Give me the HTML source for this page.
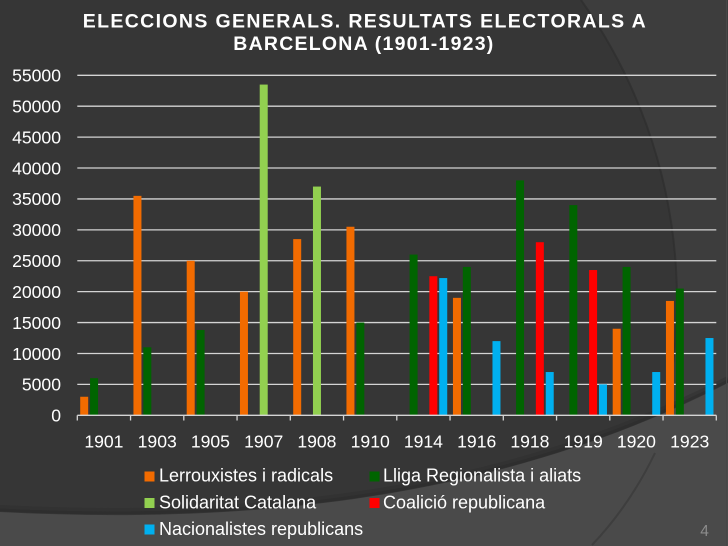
<!DOCTYPE html>
<html><head><meta charset="utf-8"><style>
html,body{margin:0;padding:0;background:#363636;width:728px;height:546px;overflow:hidden;}
svg{display:block;position:absolute;left:0;top:0;}
text{font-family:"Liberation Sans",Arial,sans-serif;}
</style></head><body>
<svg width="728" height="546" viewBox="0 0 728 546" xmlns="http://www.w3.org/2000/svg" overflow="hidden">
<rect x="0" y="0" width="728" height="546" fill="#363636"/>
<path d="M581,0 L728,0 L728,546 L614.7,546 A517,517 0 0 0 581,0 Z" fill="#3d3d3d"/>
<path d="M614.7,546 A517,517 0 0 0 581,0" fill="none" stroke="#2e2e2e" stroke-width="2" opacity="0.7"/>
<path d="M0,508 C250,521 500,496 728,379" fill="none" stroke="#2c2c2c" stroke-width="6" opacity="0.35"/>
<path d="M0,510 C250,523 500,498 728,381" fill="none" stroke="#2a2a2a" stroke-width="3" opacity="0.5"/>
<path d="M0,512 C250,525 500,500 728,383 L728,546 L0,546 Z" fill="#4a4a4a"/>
<path d="M655,453 Q630,505 592,545" fill="none" stroke="#3e3e3e" stroke-width="2"/>
<line x1="726.5" y1="0" x2="726.5" y2="546" stroke="#474747" stroke-width="1"/>

<!-- title -->
<text x="82.7" y="27.3" font-size="19.5" font-weight="bold" fill="#ffffff" textLength="563" lengthAdjust="spacing">ELECCIONS GENERALS. RESULTATS ELECTORALS A</text>
<text x="233.3" y="50" font-size="19.5" font-weight="bold" fill="#ffffff" textLength="260" lengthAdjust="spacing">BARCELONA (1901-1923)</text>

<!-- gridlines -->
<g stroke="#d4d4d4" stroke-width="1.3">
<line x1="77.3" y1="384.39" x2="716.3" y2="384.39"/>
<line x1="77.3" y1="353.48" x2="716.3" y2="353.48"/>
<line x1="77.3" y1="322.57" x2="716.3" y2="322.57"/>
<line x1="77.3" y1="291.66" x2="716.3" y2="291.66"/>
<line x1="77.3" y1="260.75" x2="716.3" y2="260.75"/>
<line x1="77.3" y1="229.85" x2="716.3" y2="229.85"/>
<line x1="77.3" y1="198.94" x2="716.3" y2="198.94"/>
<line x1="77.3" y1="168.03" x2="716.3" y2="168.03"/>
<line x1="77.3" y1="137.12" x2="716.3" y2="137.12"/>
<line x1="77.3" y1="106.21" x2="716.3" y2="106.21"/>
<line x1="77.3" y1="75.3" x2="716.3" y2="75.3"/>
</g>

<!-- y labels -->
<g font-size="17.6" fill="#ffffff" text-anchor="end">
<text x="61" y="421.6">0</text>
<text x="61" y="390.7">5000</text>
<text x="61" y="359.8">10000</text>
<text x="61" y="328.9">15000</text>
<text x="61" y="298.0">20000</text>
<text x="61" y="267.1">25000</text>
<text x="61" y="236.1">30000</text>
<text x="61" y="205.2">35000</text>
<text x="61" y="174.3">40000</text>
<text x="61" y="143.4">45000</text>
<text x="61" y="112.5">50000</text>
<text x="61" y="81.6">55000</text>
</g>

<!-- bars -->
<g>
<rect x="80.2" y="396.75" width="8" height="18.55" fill="#f26b00"/>
<rect x="90.08" y="378.21" width="8" height="37.09" fill="#006400"/>
<rect x="133.45" y="195.85" width="8" height="219.45" fill="#f26b00"/>
<rect x="143.33" y="347.3" width="8" height="68" fill="#006400"/>
<rect x="186.7" y="260.75" width="8" height="154.55" fill="#f26b00"/>
<rect x="196.58" y="329.99" width="8" height="85.31" fill="#006400"/>
<rect x="239.95" y="291.66" width="8" height="123.64" fill="#f26b00"/>
<rect x="259.71" y="84.57" width="8" height="330.73" fill="#92d050"/>
<rect x="293.2" y="239.12" width="8" height="176.18" fill="#f26b00"/>
<rect x="312.96" y="186.57" width="8" height="228.73" fill="#92d050"/>
<rect x="346.45" y="226.75" width="8" height="188.55" fill="#f26b00"/>
<rect x="356.33" y="322.57" width="8" height="92.73" fill="#006400"/>
<rect x="409.58" y="254.57" width="8" height="160.73" fill="#006400"/>
<rect x="429.34" y="276.21" width="8" height="139.09" fill="#ff0000"/>
<rect x="439.22" y="278.06" width="8" height="137.24" fill="#00b0f0"/>
<rect x="452.95" y="297.85" width="8" height="117.45" fill="#f26b00"/>
<rect x="462.83" y="266.94" width="8" height="148.36" fill="#006400"/>
<rect x="492.47" y="341.12" width="8" height="74.18" fill="#00b0f0"/>
<rect x="516.08" y="180.39" width="8" height="234.91" fill="#006400"/>
<rect x="535.84" y="242.21" width="8" height="173.09" fill="#ff0000"/>
<rect x="545.72" y="372.03" width="8" height="43.27" fill="#00b0f0"/>
<rect x="569.33" y="205.12" width="8" height="210.18" fill="#006400"/>
<rect x="589.09" y="270.03" width="8" height="145.27" fill="#ff0000"/>
<rect x="598.97" y="384.39" width="8" height="30.91" fill="#00b0f0"/>
<rect x="612.7" y="328.75" width="8" height="86.55" fill="#f26b00"/>
<rect x="622.58" y="266.94" width="8" height="148.36" fill="#006400"/>
<rect x="652.22" y="372.03" width="8" height="43.27" fill="#00b0f0"/>
<rect x="665.95" y="300.94" width="8" height="114.36" fill="#f26b00"/>
<rect x="675.83" y="288.57" width="8" height="126.73" fill="#006400"/>
<rect x="705.47" y="338.03" width="8" height="77.27" fill="#00b0f0"/>
</g>

<!-- x axis -->
<g stroke="#d4d4d4" stroke-width="1.3">
<line x1="77.3" y1="415.3" x2="716.3" y2="415.3"/>
<line x1="77.3" y1="415.3" x2="77.3" y2="420.5"/>
<line x1="130.55" y1="415.3" x2="130.55" y2="420.5"/>
<line x1="183.8" y1="415.3" x2="183.8" y2="420.5"/>
<line x1="237.05" y1="415.3" x2="237.05" y2="420.5"/>
<line x1="290.3" y1="415.3" x2="290.3" y2="420.5"/>
<line x1="343.55" y1="415.3" x2="343.55" y2="420.5"/>
<line x1="396.8" y1="415.3" x2="396.8" y2="420.5"/>
<line x1="450.05" y1="415.3" x2="450.05" y2="420.5"/>
<line x1="503.3" y1="415.3" x2="503.3" y2="420.5"/>
<line x1="556.55" y1="415.3" x2="556.55" y2="420.5"/>
<line x1="609.8" y1="415.3" x2="609.8" y2="420.5"/>
<line x1="663.05" y1="415.3" x2="663.05" y2="420.5"/>
<line x1="716.3" y1="415.3" x2="716.3" y2="420.5"/>
</g>

<g font-size="17.6" fill="#ffffff" text-anchor="middle">
<text x="103.9" y="447.7">1901</text>
<text x="157.2" y="447.7">1903</text>
<text x="210.4" y="447.7">1905</text>
<text x="263.7" y="447.7">1907</text>
<text x="316.9" y="447.7">1908</text>
<text x="370.2" y="447.7">1910</text>
<text x="423.4" y="447.7">1914</text>
<text x="476.7" y="447.7">1916</text>
<text x="529.9" y="447.7">1918</text>
<text x="583.2" y="447.7">1919</text>
<text x="636.4" y="447.7">1920</text>
<text x="689.7" y="447.7">1923</text>
</g>

<!-- legend -->
<rect x="144.5" y="471.5" width="10" height="10" fill="#f26b00"/>
<rect x="144.5" y="498" width="10" height="10" fill="#92d050"/>
<rect x="144.5" y="524.5" width="10" height="10" fill="#00b0f0"/>
<rect x="369.5" y="471.5" width="10" height="10" fill="#006400"/>
<rect x="369.5" y="498" width="10" height="10" fill="#ff0000"/>
<g font-size="18" fill="#ffffff">
<text x="159" y="481.7">Lerrouxistes i radicals</text>
<text x="159" y="508.3">Solidaritat Catalana</text>
<text x="159" y="535">Nacionalistes republicans</text>
<text x="383" y="481.7">Lliga Regionalista i aliats</text>
<text x="383" y="508.3">Coalició republicana</text>
</g>

<text x="704.5" y="536" font-size="15.5" fill="#8c8c8c" text-anchor="middle">4</text>
</svg>
</body></html>
